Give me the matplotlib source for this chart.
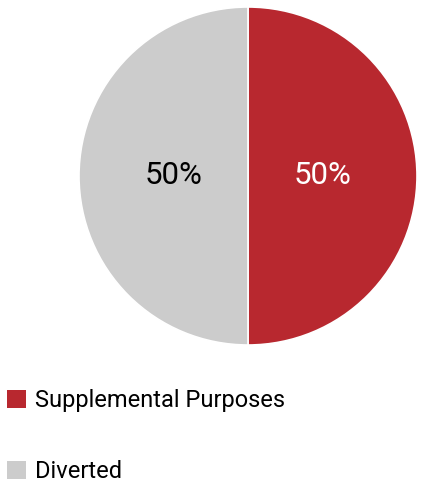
import matplotlib.pyplot as plt
from matplotlib.patches import Patch

labels = ["Supplemental Purposes", "Diverted"]
values = [50, 50]
colors = ["#B8282F", "#CCCCCC"]
text_colors = ["white", "black"]

plt.rcParams["font.family"] = ["Roboto", "DejaVu Sans"]

W, H = 423, 483
fig = plt.figure(figsize=(W / 100, H / 100), dpi=100)

# pie placed so its center is at (248, 176) px with radius 169 px
cx, cy, r = 248, 176, 169
ax = fig.add_axes([(cx - r) / W, (H - cy - r) / H, 2 * r / W, 2 * r / H])
wedges, texts, autotexts = ax.pie(
    values, colors=colors, startangle=90, counterclock=False,
    autopct="%d%%", pctdistance=0.44, radius=1,
    wedgeprops=dict(edgecolor="white", linewidth=1.2),
    textprops=dict(fontsize=22.5),
)
for t, c in zip(autotexts, text_colors):
    t.set_color(c)
ax.set_xlim(-1, 1)
ax.set_ylim(-1, 1)
ax.set_aspect("equal")
ax.axis("off")

handles = [Patch(facecolor=c, edgecolor="none") for c in colors]
fig.legend(handles, labels, loc="upper left", bbox_to_anchor=(0.0, 1 - 382 / H),
           frameon=False, fontsize=17, handlelength=0.8, handleheight=0.8,
           handletextpad=0.4, labelspacing=2.05, borderaxespad=0, borderpad=0.3)

fig.savefig("out.png", dpi=100)
